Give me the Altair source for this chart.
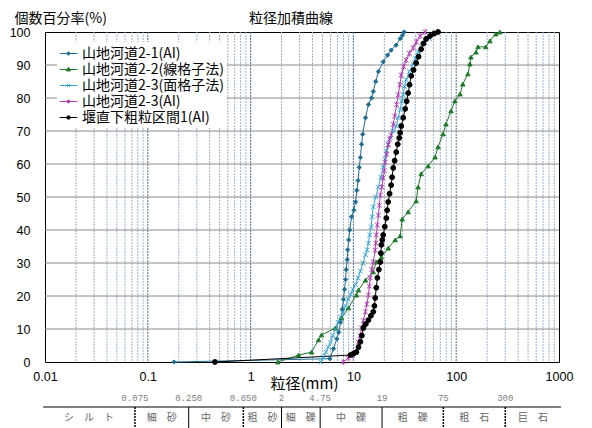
import altair as alt
import pandas as pd
import numpy as np

chart_title = "粒径加積曲線"
names = ["山地河道2-1(AI)", "山地河道2-2(線格子法)", "山地河道2-3(面格子法)", "山地河道2-3(AI)", "堰直下粗粒区間1(AI)"]
colors = ["#1f6f94", "#1f7a2a", "#2ea3d6", "#b43cb4", "#000000"]
plot_shapes = ["diamond", "triangle-up", "M-1,-1L1,1M-1,1L1,-1", "M-1,-1L1,1M-1,1L1,-1M0,-1.3L0,1.3", "circle"]
marker_sizes = [18, 24, 18, 22, 45]
line_widths = [1, 1, 1, 1, 2]
legend_shapes = [
    "M-1.1,0L1.1,0M0,-0.22L0.22,0L0,0.22L-0.22,0Z",
    "M-1.1,0L1.1,0M0,-0.28L0.26,0.18L-0.26,0.18Z",
    "M-1.1,0L1.1,0M-0.18,-0.18L0.18,0.18M-0.18,0.18L0.18,-0.18",
    "M-1.1,0L1.1,0M-0.18,-0.18L0.18,0.18M-0.18,0.18L0.18,-0.18M0,-0.24L0,0.24",
    "M-1.1,0L1.1,0M0.22,0A0.22,0.22 0 1,1 -0.22,0A0.22,0.22 0 1,1 0.22,0Z",
]

s1_mm = [0.18, 5.9, 6.4, 6.9, 7.2, 7.5, 7.8, 8.0, 8.2, 8.4, 8.5, 8.7, 8.8, 9.0, 9.2, 9.6, 10.1, 10.5, 10.8, 11.1,
         11.4, 11.7, 12.0, 12.3, 13.1, 14.0, 15.0, 15.6, 16.5, 17.5, 19.5, 21.5, 23.3, 26.0, 28.5, 30.0, 31.2]
s1_pct = [0, 1, 4, 7, 9, 12, 16, 19, 22, 25, 28, 31, 34, 37, 40, 44, 46, 48.5, 52, 55,
          59, 62, 66, 69, 74, 78, 80, 82, 85, 88, 91, 93, 94.5, 96, 98, 99, 100]

s2_mm = [1.84, 2.93, 3.92, 4.58, 4.90, 6.69, 7.65, 8.95, 10.7, 11.2, 13.1, 15.6, 16.7, 18.7, 21.8, 25.5, 28.5, 29.8,
         34.1, 40.8, 42.6, 45.6, 53.3, 62.3, 66.6, 74.5, 79.6, 89.1, 97.3, 109, 116, 130, 136, 139, 156, 163, 194,
         213, 243, 266]
s2_pct = [0, 2.1, 3.0, 6.7, 8.2, 10.3, 13.3, 16.4, 20.3, 21.8, 24.8, 27.3, 30.3, 31.8, 34.5, 37.0, 38.2, 43.3,
          45.5, 48.8, 53.0, 57.0, 59.4, 62.1, 65.2, 69.1, 72.1, 76.1, 79.1, 81.2, 84.2, 87.3, 90.3, 92.4, 93.9, 95.5,
          95.5, 97.3, 99.4, 100]

s3_mm = [4.8, 5.1, 5.4, 5.7, 6.0, 6.3, 6.7, 7.1, 7.5, 7.9, 8.4, 8.9, 9.4, 9.9, 10.5, 11.1, 11.7, 12.4, 13.1, 13.6,
         14.0, 14.4, 14.9, 15.2, 15.6, 16.5, 17.5, 18.5, 19.5, 20.3, 20.9, 21.8, 22.8, 24.5, 26.1, 27.3, 28.5, 29.5,
         30.5, 31.5, 32.6, 35.0, 38.1, 40.0, 42.6, 46.0, 49.9, 55.0, 62.0]
s3_pct = [0, 1.5, 3, 4.5, 6, 8, 10, 12, 13.6, 15, 17, 19, 20.5, 22, 23.5, 25.5, 27.5, 30, 32.5, 34,
          36, 38.5, 41, 44, 47, 50, 53, 56, 59, 61.5, 64, 66, 68, 70, 71.5, 74, 76.5, 79,
          81, 83.5, 85.5, 88, 90.3, 92, 94, 95.5, 96.7, 98, 100]

s4_mm = [8.0, 8.9, 9.8, 10.5, 11.2, 11.6, 12.0, 12.5, 13.1, 13.5, 14.0, 14.3, 14.6, 15.1, 15.6, 16.3, 16.5, 16.7,
         17.1, 17.5, 17.9, 18.3, 18.9, 19.5, 20.0, 20.4, 21.1, 21.8, 22.5, 23.3, 24.4, 25.2, 26.3, 27.3, 28.3, 29.2,
         30.8, 32.6, 35.0, 38.1, 41.0, 44.6, 49.9]
s4_pct = [0, 1.2, 2, 3, 6, 8, 10.3, 12.5, 15.2, 17.5, 20.3, 23, 25.5, 28, 30.3, 33.9, 36, 38.5,
          41.5, 44.5, 47.5, 50.6, 53, 55.8, 58, 60.6, 63, 65.8, 67.5, 68.8, 72, 74.5, 78, 81, 84, 87,
          89.5, 91.5, 93.5, 95.2, 97, 98.8, 100]

s5_mm = [0.45, 9.35, 10.0, 10.7, 11.2, 11.7, 12.1, 12.5, 13.2, 14.0, 14.8, 15.6, 16.0, 16.3, 16.7, 17.1, 17.7, 18.3,
         18.5, 18.7, 19.1, 19.5, 20.2, 20.9, 21.3, 21.8, 22.5, 23.3, 23.8, 24.4, 25.2, 26.1, 27.0, 27.9, 28.5, 29.2,
         30.5, 31.9, 33.0, 34.1, 35.2, 36.5, 38.5, 40.8, 43.0, 45.6, 48.0, 51.0, 55.7, 61.0, 66.6]
s5_pct = [0, 2.1, 2.5, 3, 4.5, 6.1, 8, 10.3, 11.5, 12.7, 14, 15.2, 17, 19.4, 22.5, 25.5, 28, 30.3,
          33, 35.5, 37, 38.5, 41, 43.6, 46, 48.5, 51, 53.6, 56, 58.8, 61, 63.6, 66, 67.9, 69.5, 71.5,
          74, 76.7, 79, 81.5, 84, 86.7, 88.5, 90.6, 92.5, 94.8, 96.5, 97.9, 98.8, 99.5, 100]

x_ticks = [0.01, 0.1, 1, 10, 100, 1000]
y_ticks = [0, 10, 20, 30, 40, 50, 60, 70, 80, 90, 100]
minor_grid = [m * 10.0 ** k for k in range(-2, 3) for m in range(2, 10)]
major_grid = [0.1, 1, 10, 100]
h_grid = [10, 20, 30, 40, 50, 60, 70, 80, 90]

bounds = [0.075, 0.25, 0.85, 2, 4.75, 19, 75, 300]
bound_labels = ["0.075", "0.250", "0.850", "2", "4.75", "19", "75", "300"]
bound_dashed = [True, False, True, False, False, False, True, True]
table_left, table_right = 0.0096, 1045
cat_names = ["シ　ル　ト", "細　砂", "中　砂", "粗　砂", "細　礫", "中　礫", "粗　礫", "粗　石", "巨　石"]

# ---- build tables ----
rows = []
for n, xs, ys in zip(names, [s1_mm, s2_mm, s3_mm, s4_mm, s5_mm], [s1_pct, s2_pct, s3_pct, s4_pct, s5_pct]):
    for j, (xv, yv) in enumerate(zip(xs, ys)):
        rows.append({"series": n, "size": xv, "pct": yv, "idx": j})
df = pd.DataFrame(rows)

edges = [table_left] + bounds + [table_right]
cat_centers = [float(np.sqrt(edges[i] * edges[i + 1])) for i in range(len(cat_names))]
cat_df = pd.DataFrame({"name": cat_names, "c": cat_centers})
bound_df = pd.DataFrame({"b": bounds, "label": bound_labels, "dashed": bound_dashed})

JP = "Noto Sans CJK JP"
NUM = "Liberation Sans"

xs_ = alt.Scale(type="log", domain=[0.01, 1000], nice=False)
ys_ = alt.Scale(domain=[0, 100], nice=False)
cs_ = alt.Scale(domain=names, range=colors)

x_axis = alt.Axis(values=x_ticks, format="~g", grid=False, ticks=False, domain=False,
                  labelFont=NUM, labelFontSize=12.5, labelColor="black", labelPadding=8,
                  labelFlush=False, labelOverlap=False,
                  title="粒径(mm)", titleFont=JP, titleFontSize=15, titleFontWeight="normal",
                  titleColor="black", titleX=259, titleY=21, titleBaseline="middle", titleAlign="center")
y_axis = alt.Axis(values=y_ticks, grid=False, ticks=False, domain=False,
                  labelFont=NUM, labelFontSize=12.5, labelColor="black", labelPadding=15,
                  title="個数百分率(%)", titleFont=JP, titleFontSize=14, titleFontWeight="normal",
                  titleColor="black", titleAngle=0, titleX=-31, titleY=-14, titleAlign="left",
                  titleBaseline="middle")


def X(field):
    return alt.X(field, scale=xs_, axis=x_axis)


def Y(field):
    return alt.Y(field, scale=ys_, axis=y_axis)


minor_layer = alt.Chart(pd.DataFrame({"g": minor_grid})).mark_rule(
    color="#9bb3d3", strokeWidth=1, strokeDash=[2, 1]
).encode(x=X("g:Q"))

major_layer = alt.Chart(pd.DataFrame({"g": major_grid})).mark_rule(
    color="#4f6f9c", strokeWidth=1, strokeDash=[2, 1]
).encode(x=X("g:Q"))

h_layer = alt.Chart(pd.DataFrame({"h": h_grid})).mark_rule(
    color="#8a8a8a", strokeWidth=1
).encode(y=Y("h:Q"))

line_layer = alt.Chart(df).mark_line().encode(
    x=X("size:Q"),
    y=Y("pct:Q"),
    color=alt.Color("series:N", scale=cs_, legend=None),
    strokeWidth=alt.StrokeWidth("series:N", scale=alt.Scale(domain=names, range=line_widths), legend=None),
    order=alt.Order("idx:Q"),
)

point_layer = alt.Chart(df).mark_point(opacity=1, strokeWidth=1).encode(
    x=X("size:Q"),
    y=Y("pct:Q"),
    fill=alt.Fill("series:N", scale=alt.Scale(domain=names, range=colors), legend=None),
    stroke=alt.Stroke("series:N", scale=alt.Scale(domain=names, range=colors), legend=None),
    shape=alt.Shape("series:N", scale=alt.Scale(domain=names, range=plot_shapes), legend=None),
    size=alt.Size("series:N", scale=alt.Scale(domain=names, range=marker_sizes), legend=None),
)

leg = alt.Legend(title=None, orient="none", legendX=12, legendY=10, fillColor="white", padding=3,
                 rowPadding=0, labelFont=JP, labelFontSize=14, labelColor="black", labelOffset=5,
                 symbolSize=256, symbolOpacity=1, symbolStrokeWidth=1, labelLimit=400)

legend_layer = alt.Chart(pd.DataFrame({"series": names, "lx": [1.0] * 5, "ly": [50.0] * 5})).mark_point(
    opacity=0
).encode(
    x=X("lx:Q"),
    y=Y("ly:Q"),
    fill=alt.Fill("series:N", scale=alt.Scale(domain=names, range=colors), legend=leg),
    stroke=alt.Stroke("series:N", scale=alt.Scale(domain=names, range=colors), legend=leg),
    shape=alt.Shape("series:N", scale=alt.Scale(domain=names, range=legend_shapes), legend=leg),
)

title_layer = alt.Chart(pd.DataFrame({"t": [chart_title]})).mark_text(
    font=JP, fontSize=14, color="black", baseline="middle", align="center"
).encode(x=alt.value(246), y=alt.value(-13), text="t:N")

table_hline = alt.Chart(pd.DataFrame({"a": [table_left], "b": [table_right]})).mark_rule(
    color="black", strokeWidth=1
).encode(x=X("a:Q"), x2="b:Q", y=alt.value(375))

div_solid = alt.Chart(bound_df).transform_filter("!datum.dashed").mark_rule(
    color="black", strokeWidth=1
).encode(x=X("b:Q"), y=alt.value(375), y2=alt.value(398))

div_dashed = alt.Chart(bound_df).transform_filter("datum.dashed").mark_rule(
    color="black", strokeWidth=1.5, strokeDash=[2, 1]
).encode(x=X("b:Q"), y=alt.value(375), y2=alt.value(398))

bound_text = alt.Chart(bound_df).mark_text(
    font="Liberation Mono", fontSize=9, color="#808080", baseline="middle", align="center"
).encode(x=X("b:Q"), y=alt.value(366), text="label:N")

cat_text = alt.Chart(cat_df).mark_text(
    font=JP, fontSize=10, color="#666666", baseline="middle", align="center"
).encode(x=X("c:Q"), y=alt.value(386), text="name:N")

chart = alt.layer(
    minor_layer, major_layer, h_layer, line_layer, point_layer, legend_layer, title_layer,
    table_hline, div_solid, div_dashed, bound_text, cat_text
).resolve_scale(
    shape="independent", fill="independent", stroke="independent"
).properties(
    width=514, height=330,
    autosize=alt.AutoSizeParams(type="none"),
    padding={"left": 37, "top": 24, "right": 20, "bottom": 66},
    background="white",
).configure_view(stroke="black", strokeWidth=1)

chart.save("out.html", embed_options={"renderer": "svg", "actions": False})
